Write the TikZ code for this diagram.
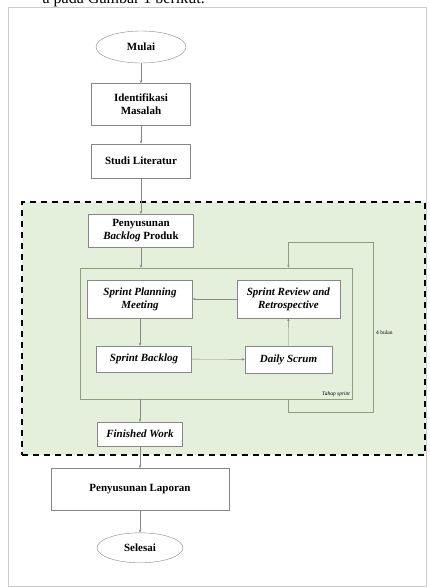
\documentclass[tikz,border=0pt]{standalone}
\usepackage{fontspec}
\setmainfont{Liberation Serif}
\usepackage{tikz}
\usetikzlibrary{shapes.geometric,arrows.meta,positioning}
\definecolor{zoneGreen}{RGB}{228,240,219}
\definecolor{lineGray}{RGB}{135,135,135}
\definecolor{sprintLine}{RGB}{140,160,128}
\definecolor{pageGray}{RGB}{205,205,205}
\tikzstyle{term}=[ellipse, draw=lineGray, fill=white, thin, font=\bfseries\fontsize{11}{13}\selectfont]
\tikzstyle{proc}=[rectangle, draw=lineGray, fill=white, thin, align=center, font=\bfseries\fontsize{11}{13}\selectfont]
\tikzstyle{sproc}=[proc, font=\bfseries\itshape\fontsize{11}{13}\selectfont]
\tikzstyle{zone}=[rectangle, draw=black, fill=zoneGreen, line width=1.3pt, dash pattern=on 6pt off 5pt]
\tikzstyle{sprintbox}=[rectangle, draw=sprintLine, thin]
\tikzstyle{flow}=[draw=lineGray, thin, -{Stealth[length=3pt,width=2.5pt]}]
\tikzstyle{tiny}=[inner sep=1pt, font=\fontsize{5.5}{6}\selectfont]

\begin{document}
\begin{tikzpicture}[x=1pt,y=-1pt]
	\useasboundingbox (0,0) rectangle (430,587);
	%%% page and cut caption line
	\draw[pageGray] (8,7) rectangle (426,586);
	\node[anchor=base east, inner sep=0, font=\fontsize{16}{16}\selectfont] (caption) at (205,3) {a pada Gambar 1 berikut.};

	%%% scrum zone (green, dashed)
	\node[zone, minimum width=403pt, minimum height=253pt] (scrumZone) at (223.5,328.5) {};

	%%% first column - preparation
	\node[term, minimum width=90pt, minimum height=32pt] (mulai) at (141,47) {Mulai};
	\node[proc, minimum width=99pt, minimum height=42pt, below=20pt of mulai] (identifikasi) {Identifikasi\\Masalah};
	\node[proc, minimum width=99pt, minimum height=34pt, below=18pt of identifikasi] (studi) {Studi Literatur};
	\node[proc, minimum width=105pt, minimum height=33pt, below=36pt of studi] (backlog) {Penyusunan\\\textit{Backlog} Produk};

	%%% sprint box
	\node[sprintbox, minimum width=272pt, minimum height=131pt] (sprint) at (216,333.5) {};
	\node[sproc, minimum width=105pt, minimum height=38pt] (planning) at (140,299) {Sprint Planning\\Meeting};
	\node[sproc, minimum width=103pt, minimum height=38pt, right=44pt of planning] (review) {Sprint Review and\\Retrospective};
	\node[sproc, minimum width=95pt, minimum height=26pt] (sprintBacklog) at (144,359) {Sprint Backlog};
	\node[sproc, minimum width=87pt, minimum height=27pt] (daily) at (288.5,359.5) {Daily Scrum};
	\node[tiny, font=\itshape\fontsize{5.5}{6}\selectfont, anchor=south east] (tahapLabel) at ([xshift=-1pt,yshift=1pt]sprint.south east) {Tahap sprint};

	% loop back, 4 months
	\coordinate (loopBottom) at (373,412);
	\coordinate (loopTop) at (373,242);
	\node[tiny, anchor=west] (bulanLabel) at (375,333) {4 bulan};

	%%% last column - closing
	\node[sproc, minimum width=85pt, minimum height=24pt] (finished) at (140,434) {Finished Work};
	\node[proc, minimum width=178pt, minimum height=42pt, below=22pt of finished] (laporan) {Penyusunan Laporan};
	\node[term, minimum width=86pt, minimum height=30pt, below=22pt of laporan] (selesai) {Selesai};

	%%% connectors
	\draw[flow] (mulai) -- (identifikasi);
	\draw[flow] (identifikasi) -- (studi);
	\draw[flow] (studi) -- (backlog);
	\draw[flow] (backlog) -- (backlog |- sprint.north);
	\draw[flow] (planning.south) -- (planning.south |- sprintBacklog.north);
	\draw[flow] (sprintBacklog) -- (daily);
	\draw[flow] (daily) -- (review);
	\draw[flow] (review) -- (planning);
	\draw[flow, draw=sprintLine] (sprint.south -| review) |- (loopBottom) -- (loopTop) -| (sprint.north -| review);
	\draw[flow] (sprint.south -| finished) -- (finished);
	\draw[flow] (finished) -- (laporan);
	\draw[flow] (laporan) -- (selesai);
\end{tikzpicture}
\end{document}
